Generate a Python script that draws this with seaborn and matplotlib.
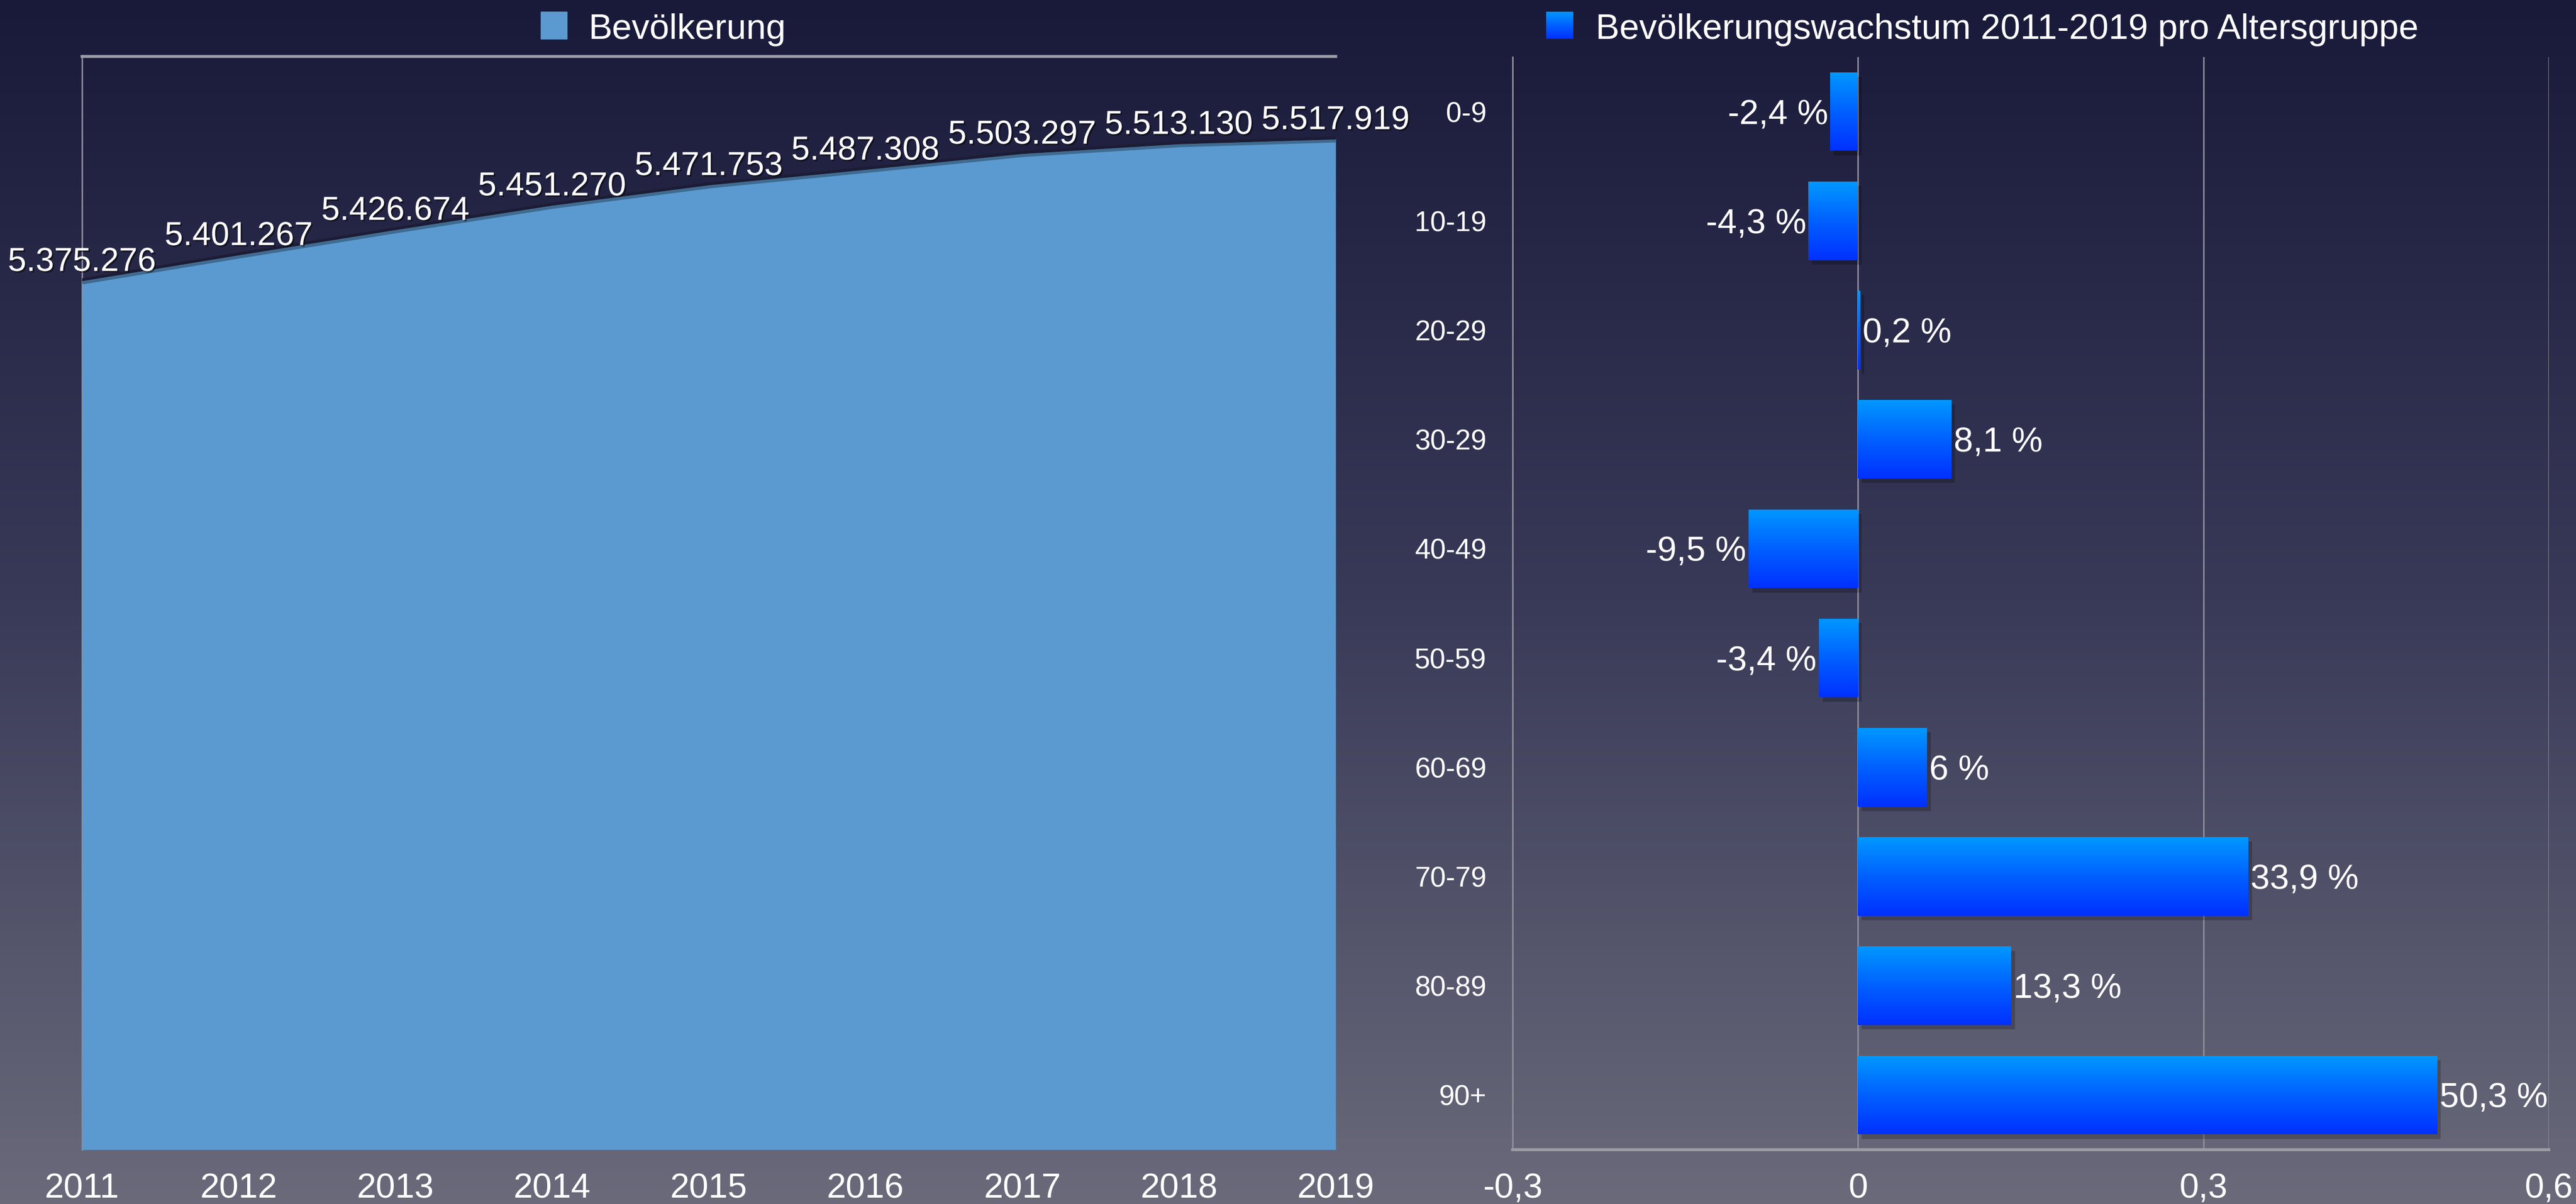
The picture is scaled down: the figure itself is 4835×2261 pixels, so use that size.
import numpy as np
import pandas as pd
import matplotlib
matplotlib.use("Agg")
import matplotlib.pyplot as plt
import seaborn as sns
import matplotlib.patheffects as pe
from matplotlib.colors import LinearSegmentedColormap
from matplotlib.patches import Rectangle

# ---------------- data ----------------
years = [2011, 2012, 2013, 2014, 2015, 2016, 2017, 2018, 2019]
population = [5375276, 5401267, 5426674, 5451270, 5471753, 5487308, 5503297, 5513130, 5517919]
pop_labels = ["5.375.276", "5.401.267", "5.426.674", "5.451.270", "5.471.753",
              "5.487.308", "5.503.297", "5.513.130", "5.517.919"]

age_groups = ["0-9", "10-19", "20-29", "30-29", "40-49", "50-59", "60-69", "70-79", "80-89", "90+"]
growth = [-0.024, -0.043, 0.002, 0.081, -0.095, -0.034, 0.06, 0.339, 0.133, 0.503]
growth_labels = ["-2,4 %", "-4,3 %", "0,2 %", "8,1 %", "-9,5 %", "-3,4 %", "6 %", "33,9 %", "13,3 %", "50,3 %"]

right_xticks = [-0.3, 0.0, 0.3, 0.6]
right_xticklabels = ["-0,3", "0", "0,3", "0,6"]

legend_left = "Bevölkerung"
legend_right = "Bevölkerungswachstum 2011-2019 pro Altersgruppe"

# ---------------- style ----------------
sns.set_theme(style="white")
plt.rcParams["font.family"] = ["Liberation Sans", "DejaVu Sans"]

W, H = 4835, 2261
fig = plt.figure(figsize=(W / 100, H / 100), dpi=100)

# background gradient
bg = fig.add_axes([0, 0, 1, 1], zorder=-10)
grad = np.linspace(0, 1, 512).reshape(-1, 1)
bg_cmap = LinearSegmentedColormap.from_list("bg", ["#19193a", "#393a58", "#6a6a7b"])
bg.imshow(grad, aspect="auto", cmap=bg_cmap, extent=[0, 1, 0, 1])
bg.axis("off")

bar_cmap = LinearSegmentedColormap.from_list("bar", ["#0098ff", "#0060ff", "#0030ff"])

def fx(px):
    return px / W

def fy(py):
    return 1 - py / H

TXT = "white"
GRID = "#8e8e9c"
FS_TICK = 47
FS_VAL = 47
FS_LEG = 48
FS_POP = 45
FS_YT = 38

# ---------------- left: area chart ----------------
ax1 = fig.add_axes([fx(154), fy(2159), fx(2507 - 154), (2159 - 106) / H])
ax1.patch.set_alpha(0)
df1 = pd.DataFrame({"Jahr": years, "Bevölkerung": population})
ymin, ymax = 4_500_000, 5_600_000
ax1.fill_between(df1["Jahr"], df1["Bevölkerung"], ymin, color="#5b9ad0", zorder=3, linewidth=0)
sns.lineplot(data=df1, x="Jahr", y="Bevölkerung", ax=ax1, color="#1c1c34", linewidth=4, zorder=4,
             path_effects=[pe.SimpleLineShadow(offset=(2, -4), shadow_color="black", alpha=0.3), pe.Normal()])
ax1.set_xlim(2011, 2019)
ax1.set_ylim(ymin, ymax)
ax1.set_xticks(years)
ax1.set_xticklabels([str(y) for y in years], color=TXT, fontsize=FS_TICK)
ax1.set_yticks([])
ax1.tick_params(axis="x", length=0, pad=31)
ax1.set_xlabel("")
ax1.set_ylabel("")
for s in ["right", "bottom"]:
    ax1.spines[s].set_visible(False)
ax1.spines["left"].set_color(GRID)
ax1.spines["left"].set_linewidth(2)
ax1.spines["top"].set_color("#9c9ca6")
ax1.spines["top"].set_linewidth(4)
for x, y, lab in zip(years, population, pop_labels):
    ax1.annotate(lab, (x, y), xytext=(0, 12), textcoords="offset points", ha="center", va="baseline",
                 color=TXT, fontsize=FS_POP, zorder=6,
                 path_effects=[pe.SimplePatchShadow(offset=(2, -2), shadow_rgbFace="black", alpha=0.5), pe.Normal()])

# ---------------- right: bar chart ----------------
ax2 = fig.add_axes([fx(2839), fy(2159), fx(4784 - 2839), (2159 - 107) / H])
ax2.patch.set_alpha(0)
df2 = pd.DataFrame({"Altersgruppe": age_groups, "Wachstum": growth})
sns.barplot(data=df2, y="Altersgruppe", x="Wachstum", orient="h", color="#0060ff", saturation=1,
            width=0.72, ax=ax2, zorder=3)
for p in ax2.patches:
    p.set_linewidth(0)
    p.set_path_effects([pe.SimplePatchShadow(offset=(5, -6), shadow_rgbFace="black", alpha=0.22), pe.Normal()])
    x0, y0, w, h = p.get_x(), p.get_y(), p.get_width(), p.get_height()
    im = ax2.imshow(grad, aspect="auto", cmap=bar_cmap, extent=[x0, x0 + w, y0 + h, y0],
                    origin="upper", zorder=4)
    im.set_clip_path(p)
ax2.set_xlim(-0.3, 0.6)
ax2.set_ylim(len(age_groups) - 0.5, -0.5)
ax2.set_xticks(right_xticks)
ax2.set_xticklabels(right_xticklabels, color=TXT, fontsize=FS_TICK)
ax2.set_yticks(range(len(age_groups)))
ax2.set_yticklabels(age_groups, color=TXT, fontsize=FS_YT)
ax2.tick_params(axis="x", length=0, pad=31)
ax2.tick_params(axis="y", length=0, pad=35)
ax2.set_xlabel("")
ax2.set_ylabel("")
ax2.xaxis.grid(True, color=GRID, linewidth=2, zorder=1)
ax2.yaxis.grid(False)
ax2.set_axisbelow(True)
for s in ["top", "right"]:
    ax2.spines[s].set_visible(False)
ax2.spines["left"].set_color(GRID)
ax2.spines["left"].set_linewidth(2)
ax2.spines["bottom"].set_color("#9c9ca6")
ax2.spines["bottom"].set_linewidth(4)
cap_half = -0.36 * FS_VAL
for i, (v, lab) in enumerate(zip(growth, growth_labels)):
    if v >= 0:
        ax2.annotate(lab, (v, i), xytext=(3, cap_half), textcoords="offset points", ha="left", va="baseline",
                     color=TXT, fontsize=FS_VAL, zorder=6)
    else:
        ax2.annotate(lab, (v, i), xytext=(-3, cap_half), textcoords="offset points", ha="right", va="baseline",
                     color=TXT, fontsize=FS_VAL, zorder=6)

# ---------------- legends ----------------
fig.patches.append(Rectangle((fx(1015), fy(73)), fx(1064 - 1015), (73 - 22) / H,
                             transform=fig.transFigure, color="#5b9ad0"))
fig.text(fx(1104), fy(73), legend_left, color=TXT, fontsize=FS_LEG, ha="left", va="baseline")
lg = fig.add_axes([fx(2902), fy(73), fx(2953 - 2902), (73 - 22) / H])
lg.imshow(grad, aspect="auto", cmap=bar_cmap, extent=[0, 1, 0, 1])
lg.axis("off")
fig.text(fx(2995), fy(73), legend_right, color=TXT, fontsize=FS_LEG, ha="left", va="baseline")

fig.savefig("out.png", dpi=100)
